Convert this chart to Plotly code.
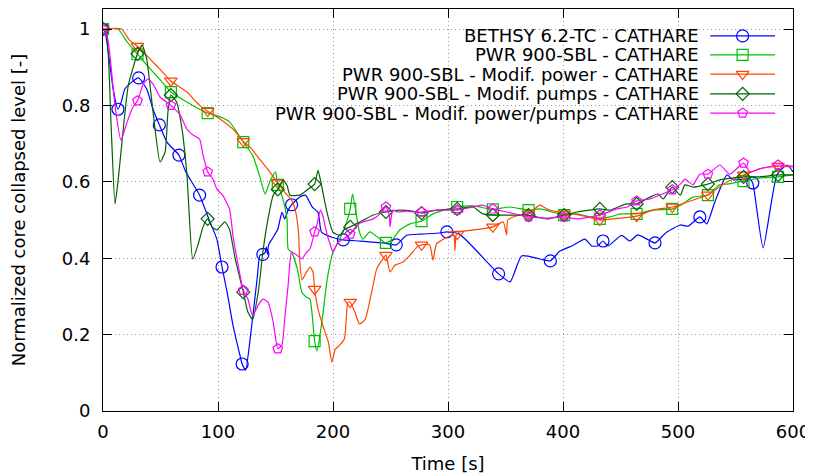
import plotly.graph_objects as go

# ---- data (time [s], normalized collapsed level [-]) ----
bethsy_t = [0, 2, 5, 9, 13, 16, 19, 25, 31, 38, 43.5, 49, 55.6, 66, 72, 84, 93, 99, 103.5, 108, 113, 119,
            121, 124, 128, 134, 136.5, 139, 141, 142, 143, 144, 148, 152, 155.6, 158, 161, 164, 171, 176, 182,
            187, 190, 199, 209, 223, 243.5, 255, 264, 276, 293, 299, 310, 344, 354, 364, 380, 389, 397, 409,
            419, 425, 430, 434.8, 439, 451, 458, 465, 473, 480, 490, 502, 509, 519, 525, 532, 542.6, 548,
            556.5, 562.6, 565, 574, 586, 595, 600]
bethsy_y = [1.0, 0.99, 0.93, 0.84, 0.79, 0.81, 0.843, 0.861, 0.872, 0.843, 0.79, 0.749, 0.704, 0.67, 0.626,
            0.565, 0.495, 0.45, 0.377, 0.31, 0.225, 0.147, 0.123, 0.107, 0.19, 0.346, 0.408, 0.41, 0.415,
            0.43, 0.41, 0.435, 0.455, 0.476, 0.52, 0.503, 0.526, 0.54, 0.56, 0.565, 0.534, 0.52, 0.468,
            0.455, 0.448, 0.445, 0.44, 0.435, 0.46, 0.463, 0.466, 0.469, 0.463, 0.359, 0.338, 0.406, 0.398,
            0.393, 0.418, 0.434, 0.45, 0.432, 0.432, 0.445, 0.432, 0.46, 0.445, 0.461, 0.45, 0.44, 0.468,
            0.487, 0.484, 0.508, 0.49, 0.547, 0.618, 0.605, 0.607, 0.607, 0.597, 0.427, 0.618, 0.644, 0.626]
bethsy_marks = [0, 13, 31, 49, 66, 84, 103.5, 121, 139, 164, 209, 255, 299, 344, 389, 434.8, 480, 519, 565]

pwr_t = [0, 13, 21, 30, 38, 50, 59, 70, 82, 91, 102, 110, 122, 130, 136, 141, 145, 150, 152, 156, 160, 161,
         164, 169, 173, 177, 180, 184, 186, 190, 195, 200, 206, 212, 215, 217, 223, 226, 232, 241, 246, 252,
         258, 267, 277, 287, 299, 308, 322, 334, 339, 354, 370, 380, 401, 412, 432, 441, 450, 464, 478, 495,
         504, 513, 526, 536, 543, 557, 571, 587, 600]
pwr_y = [1.0, 1.0, 0.966, 0.934, 0.906, 0.866, 0.835, 0.814, 0.793, 0.78, 0.77, 0.757, 0.704, 0.67, 0.617,
         0.568, 0.6, 0.626, 0.592, 0.56, 0.503, 0.424, 0.416, 0.372, 0.31, 0.298, 0.293, 0.183, 0.157, 0.225,
         0.346, 0.416, 0.45, 0.495, 0.529, 0.568, 0.469, 0.45, 0.469, 0.45, 0.44, 0.45, 0.474, 0.49, 0.497,
         0.516, 0.528, 0.534, 0.537, 0.53, 0.528, 0.534, 0.526, 0.529, 0.513, 0.516, 0.503, 0.508, 0.516,
         0.516, 0.526, 0.529, 0.542, 0.56, 0.565, 0.592, 0.594, 0.602, 0.61, 0.613, 0.618]

power_t = [0, 16, 23, 30, 41, 50, 59, 73, 84, 91, 102, 113, 122, 128, 136, 145, 152, 158, 164, 167, 170, 171,
           173, 177, 180, 182.6, 184, 187, 191, 196, 199, 202, 206, 210, 213, 215, 219, 223, 228, 234, 238,
           242.6, 246, 249.6, 254, 261, 267, 273, 277, 284, 287, 290, 299, 305, 306, 307, 308, 310, 328, 339,
           348, 351, 352, 362.6, 370, 380, 386, 395, 401, 409, 421, 432, 450, 464, 478, 495, 508, 526, 543,
           557, 571, 587, 600]
power_y = [1.0, 1.0, 0.971, 0.955, 0.921, 0.893, 0.864, 0.835, 0.8, 0.785, 0.764, 0.738, 0.706, 0.69, 0.66,
           0.626, 0.597, 0.573, 0.552, 0.529, 0.469, 0.398, 0.343, 0.364, 0.377, 0.364, 0.319, 0.267, 0.225,
           0.18, 0.128, 0.162, 0.173, 0.19, 0.285, 0.285, 0.259, 0.228, 0.24, 0.317, 0.372, 0.395, 0.408,
           0.364, 0.382, 0.39, 0.408, 0.429, 0.435, 0.435, 0.395, 0.437, 0.455, 0.46, 0.42, 0.46, 0.463,
           0.469, 0.476, 0.482, 0.495, 0.461, 0.5, 0.513, 0.516, 0.539, 0.529, 0.521, 0.516, 0.516, 0.508,
           0.5, 0.505, 0.51, 0.526, 0.534, 0.547, 0.566, 0.6, 0.618, 0.634, 0.641, 0.639]

pumps_t = [0, 3, 7, 10.4, 13, 16.5, 22, 30, 34, 38, 43.5, 49.6, 54, 56.5, 59, 64, 68.7, 73, 78, 82.6, 87, 91,
           94.8, 99, 106, 110, 115, 122, 126, 130, 135, 139, 143.5, 148, 152, 156.5, 160, 162.6, 171, 178, 184,
           187, 190, 194.8, 200, 206, 210, 215, 223.5, 235, 246, 258, 270, 277, 290, 308, 322, 330, 339, 351,
           362.6, 370, 386, 401, 412, 423, 432, 441, 452, 455.6, 464, 475.6, 482.6, 487, 495, 502, 506, 513,
           526, 536.5, 557, 571, 587, 600]
pumps_y = [1.0, 0.99, 0.75, 0.542, 0.6, 0.704, 0.853, 0.935, 0.958, 0.921, 0.783, 0.652, 0.678, 0.783, 0.827,
           0.809, 0.738, 0.618, 0.398, 0.435, 0.482, 0.503, 0.482, 0.474, 0.495, 0.476, 0.398, 0.311, 0.259,
           0.24, 0.311, 0.416, 0.503, 0.565, 0.58, 0.605, 0.591, 0.565, 0.565, 0.58, 0.594, 0.63, 0.591, 0.52,
           0.468, 0.46, 0.476, 0.482, 0.495, 0.513, 0.521, 0.526, 0.523, 0.518, 0.526, 0.529, 0.534, 0.516,
           0.513, 0.513, 0.513, 0.513, 0.503, 0.513, 0.521, 0.526, 0.529, 0.526, 0.539, 0.542, 0.542, 0.56,
           0.568, 0.555, 0.586, 0.565, 0.592, 0.586, 0.594, 0.605, 0.613, 0.613, 0.618, 0.618]

both_t = [0, 3, 6, 10.4, 15.6, 21, 26, 30, 35, 39, 43.5, 49.6, 59, 67, 73, 78, 84, 87, 91, 95.6, 99, 104, 110,
          113, 116.5, 122, 126, 130, 135, 139, 143.5, 148, 152, 155.6, 158, 161, 164, 168.7, 173, 177, 180, 184,
          186, 189, 191, 195, 197, 200, 204, 209, 215, 221, 226, 235, 241, 246, 249, 249.6, 252, 256.5, 264, 270,
          277, 290, 308, 322, 330, 339, 351, 362.6, 370, 386, 401, 412, 432, 447, 455.6, 464, 475.6, 484, 495,
          502, 506, 513, 519, 526, 536.5, 545, 557, 562.6, 571, 587, 600]
both_y = [1.0, 0.99, 0.932, 0.8, 0.709, 0.757, 0.796, 0.812, 0.856, 0.869, 0.856, 0.822, 0.8, 0.775, 0.738,
          0.723, 0.712, 0.67, 0.626, 0.607, 0.581, 0.565, 0.529, 0.46, 0.398, 0.316, 0.293, 0.25, 0.277, 0.293,
          0.285, 0.233, 0.163, 0.173, 0.241, 0.33, 0.416, 0.408, 0.398, 0.416, 0.424, 0.469, 0.487, 0.526, 0.513,
          0.46, 0.442, 0.416, 0.44, 0.45, 0.463, 0.487, 0.495, 0.503, 0.516, 0.534, 0.513, 0.482, 0.526, 0.521,
          0.523, 0.521, 0.521, 0.526, 0.526, 0.534, 0.539, 0.529, 0.521, 0.513, 0.508, 0.505, 0.508, 0.503,
          0.513, 0.529, 0.534, 0.55, 0.555, 0.565, 0.579, 0.594, 0.607, 0.592, 0.62, 0.62, 0.644, 0.62, 0.649,
          0.626, 0.634, 0.644, 0.641]

# symbols sit on a subset of the points (same times for all CATHARE runs)
code_marks = [0, 30, 59, 91, 122, 152, 184, 215, 246, 277, 308, 339, 370, 401, 432, 464, 495, 526, 557, 587]

series = [
    ("BETHSY 6.2-TC - CATHARE", bethsy_t, bethsy_y, bethsy_marks, "#0000ff", "circle-open"),
    ("PWR 900-SBL - CATHARE", pwr_t, pwr_y, code_marks, "#00c000", "square-open"),
    ("PWR 900-SBL - Modif. power - CATHARE", power_t, power_y, code_marks, "#ff4500", "triangle-down-open"),
    ("PWR 900-SBL - Modif. pumps - CATHARE", pumps_t, pumps_y, code_marks, "#006400", "diamond-open"),
    ("PWR 900-SBL - Modif. power/pumps - CATHARE", both_t, both_y, code_marks, "#ff00ff", "pentagon-open"),
]
sizes = {"circle-open": 12, "square-open": 11, "triangle-down-open": 11, "diamond-open": 10,
         "pentagon-open": 10}

FONT = "DejaVu Sans, Verdana, sans-serif"
fig = go.Figure()

for name, t, y, marks, color, symbol in series:
    fig.add_trace(go.Scatter(
        x=t, y=y, mode="lines", name=name, showlegend=False,
        line=dict(color=color, width=1.2, shape="spline", smoothing=0.5),
    ))
    lookup = dict(zip(t, y))
    fig.add_trace(go.Scatter(
        x=marks, y=[lookup[m] for m in marks], mode="markers", showlegend=False,
        marker=dict(symbol=symbol, size=sizes[symbol], color=color, line=dict(width=1.2, color=color)),
    ))

# gnuplot-style key: right-aligned text with the sample to its right
key_rows = [0.933, 0.886, 0.838, 0.789, 0.741]
for (name, t, y, marks, color, symbol), ky in zip(series, key_rows):
    fig.add_trace(go.Scatter(
        x=[0.880, 0.974], y=[ky, ky], xaxis="x2", yaxis="y2", mode="lines",
        showlegend=False, hoverinfo="skip", line=dict(color=color, width=1.2),
    ))
    fig.add_trace(go.Scatter(
        x=[0.927], y=[ky], xaxis="x2", yaxis="y2", mode="markers",
        showlegend=False, hoverinfo="skip",
        marker=dict(symbol=symbol, size=sizes[symbol], color=color, line=dict(width=1.2, color=color)),
    ))
    fig.add_annotation(x=0.866, y=ky, xref="paper", yref="paper", text=name, showarrow=False,
                       xanchor="right", yanchor="middle", font=dict(size=18, color="black", family=FONT))

axis_common = dict(
    showline=True, linecolor="black", linewidth=1, mirror="allticks",
    ticks="inside", ticklen=9, tickcolor="black", automargin=False,
    showgrid=True, gridcolor="#9a9a9a", griddash="1px,3px", gridwidth=1,
    zeroline=False, tickfont=dict(size=18, color="black", family=FONT),
)
# the page puts the figure 8px in from the top-left corner, so the figure is a bit smaller
fig.update_layout(
    width=805, height=466,
    margin=dict(l=95, r=20, t=1, b=63),
    paper_bgcolor="white", plot_bgcolor="white",
    font=dict(family=FONT, size=18, color="black"),
    xaxis=dict(range=[0, 600], dtick=100, ticklabelstandoff=4,
               title=dict(text="Time [s]", standoff=17, font=dict(size=18)), **axis_common),
    yaxis=dict(range=[0, 1.0524], tickvals=[0, 0.2, 0.4, 0.6, 0.8, 1.0],
               ticktext=["0", "0.2", "0.4", "0.6", "0.8", "1"], ticklabelstandoff=8,
               title=dict(text="Normalized core collapsed level [-]", standoff=31, font=dict(size=18)),
               **axis_common),
    xaxis2=dict(range=[0, 1], overlaying="x", anchor="y2", visible=False),
    yaxis2=dict(range=[0, 1], overlaying="y", anchor="x2", visible=False),
    showlegend=False,
)

fig.write_html("out.html")
